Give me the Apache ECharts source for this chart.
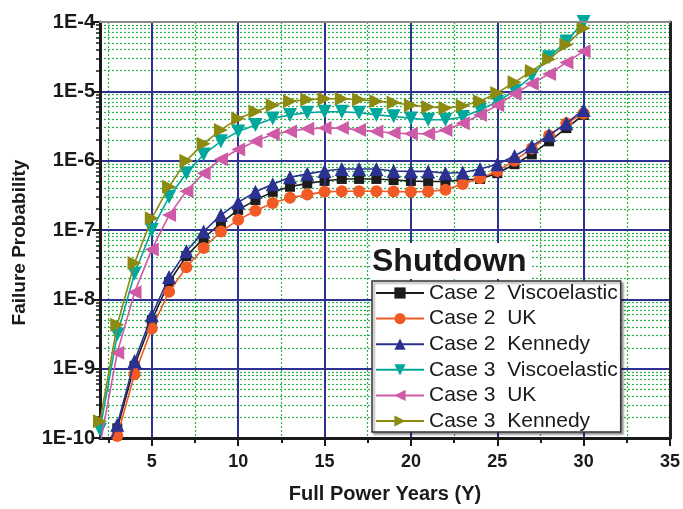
<!DOCTYPE html>
<html>
<head>
<meta charset="utf-8">
<script src="https://cdn.jsdelivr.net/npm/echarts@6/dist/echarts.min.js"></script>
<style>
html,body{margin:0;padding:0;background:#fff;}
#chart{width:683px;height:509px;}
</style>
</head>
<body>
<div id="chart"></div>
<script>
// ---- data ----
var years = [2,3,4,5,6,7,8,9,10,11,12,13,14,15,16,17,18,19,20,21,22,23,24,25,26,27,28,29,30];
var case2Visco = [6e-11,1.38e-10,1.1e-9,5.0e-9,1.78e-8,4.2e-8,7.6e-8,1.26e-7,1.95e-7,2.7e-7,3.55e-7,4.2e-7,4.7e-7,5.1e-7,5.45e-7,5.45e-7,5.45e-7,5.25e-7,5.1e-7,5.0e-7,5.0e-7,5.25e-7,5.45e-7,6.6e-7,8.9e-7,1.23e-6,1.9e-6,2.95e-6,4.57e-6];
var case2UK = [5e-11,1.07e-10,8.3e-10,3.8e-9,1.29e-8,2.9e-8,5.5e-8,9.5e-8,1.4e-7,1.9e-7,2.45e-7,2.92e-7,3.24e-7,3.55e-7,3.63e-7,3.63e-7,3.63e-7,3.6e-7,3.55e-7,3.6e-7,3.8e-7,4.6e-7,5.6e-7,7.1e-7,1.0e-6,1.5e-6,2.3e-6,3.47e-6,4.8e-6];
var case2Kennedy = [4e-11,1.55e-10,1.29e-9,5.9e-9,2.1e-8,4.95e-8,9.5e-8,1.64e-7,2.5e-7,3.55e-7,4.57e-7,5.75e-7,6.45e-7,7.1e-7,7.6e-7,7.6e-7,7.6e-7,7.1e-7,7.0e-7,7.0e-7,6.6e-7,6.75e-7,7.6e-7,8.9e-7,1.17e-6,1.62e-6,2.34e-6,3.47e-6,5.4e-6];
var case3Visco = [1.32e-10,3.1e-9,2.34e-8,1.0e-7,3.0e-7,6.6e-7,1.23e-6,1.9e-6,2.63e-6,3.27e-6,4.07e-6,4.57e-6,4.9e-6,5.07e-6,5.07e-6,4.9e-6,4.57e-6,4.36e-6,4.07e-6,3.9e-6,3.9e-6,4.27e-6,5.37e-6,7.1e-6,1.02e-5,1.66e-5,3.1e-5,5.25e-5,1.0e-4];
var case3UK = [8e-11,1.7e-9,1.26e-8,5.25e-8,1.64e-7,3.63e-7,6.6e-7,1.05e-6,1.45e-6,1.9e-6,2.4e-6,2.63e-6,2.88e-6,2.95e-6,2.95e-6,2.78e-6,2.63e-6,2.5e-6,2.45e-6,2.45e-6,2.78e-6,3.47e-6,4.57e-6,6.3e-6,9.2e-6,1.29e-5,1.78e-5,2.6e-5,3.8e-5];
var case3Kennedy = [1.74e-10,4.3e-9,3.35e-8,1.48e-7,4.2e-7,1.0e-6,1.76e-6,2.78e-6,4.07e-6,5.13e-6,6.3e-6,7.2e-6,7.6e-6,7.8e-6,7.8e-6,7.6e-6,7.2e-6,6.9e-6,6.3e-6,5.96e-6,5.75e-6,6.2e-6,7.2e-6,9.5e-6,1.35e-5,1.97e-5,2.9e-5,4.7e-5,8.1e-5];

var seriesNames = ['Case 2  Viscoelastic','Case 2  UK','Case 2  Kennedy','Case 3  Viscoelastic','Case 3  UK','Case 3  Kennedy'];
var xTickLabels = [5,10,15,20,25,30,35];
var xMinorTicks = [2.5,7.5,12.5,17.5,22.5,27.5,32.5];
var yTickLabels = ['1E-10','1E-9','1E-8','1E-7','1E-6','1E-5','1E-4'];
var yDecades = [-10,-9,-8,-7,-6,-5];
var yMinorMultipliers = [2,3,4,5,6,7,8,9];
var titleText = 'Shutdown';

// ---- build ----
function pairs(arr){ return years.map(function(x,i){ return [x, arr[i]]; }); }
var yMinorLogs = [];
yDecades.forEach(function(d){ yMinorMultipliers.forEach(function(m){ yMinorLogs.push(d + Math.log10(m)); }); });

var styles = [
  {color:'#1c1c1c', symbol:'rect', size:10, rot:0},
  {color:'#f15a24', symbol:'circle', size:12, rot:0},
  {color:'#2b3190', symbol:'triangle', size:14, rot:0},
  {color:'#00a79d', symbol:'triangle', size:14, rot:180},
  {color:'#cf5aa7', symbol:'triangle', size:14, rot:90},
  {color:'#8d8a12', symbol:'triangle', size:14, rot:-90}
];
var datasets = [case2Visco, case2UK, case2Kennedy, case3Visco, case3UK, case3Kennedy];

var series = datasets.map(function(d, i){
  var s = styles[i];
  return {
    name: seriesNames[i], type:'line', xAxisIndex:0, yAxisIndex:0,
    data: pairs(d), symbol: s.symbol, symbolSize: s.size, symbolRotate: s.rot,
    showAllSymbol: true, clip: true,
    lineStyle:{color:s.color, width:1.6},
    itemStyle:{color:s.color},
    z: 3 + i
  };
});

var black = '#1a1a1a';
var navy = '#2e3192';
var green = '#2db34a';
var FONT = 'Liberation Sans, Arial, sans-serif';

var chart = echarts.init(document.getElementById('chart'), null, {renderer:'canvas'});
chart.setOption({
  animation:false,
  backgroundColor:'#ffffff',
  title:{
    text:titleText, left:370, top:243,
    backgroundColor:'#ffffff', padding:[3,4,1,2],
    textStyle:{fontFamily:FONT, fontSize:32, fontWeight:'bold', color:'#1a1a1a', lineHeight:32}
  },
  legend:{
    data: seriesNames, orient:'vertical', left:372, top:281,
    backgroundColor:'#ffffff', borderColor:'#333', borderWidth:1.5,
    shadowColor:'rgba(0,0,0,0.35)', shadowOffsetX:2, shadowOffsetY:2, shadowBlur:2,
    padding:[1,3,0,3], itemWidth:48, itemHeight:14, itemGap:3.6,
    textStyle:{fontFamily:FONT, fontSize:21, color:'#1a1a1a', lineHeight:22},
    z: 20
  },
  grid:{left:100, right:11, top:22, bottom:64, containLabel:false},
  xAxis:[
    {
      type:'value', min:2, max:35, position:'bottom',
      name:'Full Power Years (Y)', nameLocation:'middle', nameGap:46,
      nameTextStyle:{fontFamily:FONT, fontSize:20, fontWeight:'bold', color:'#1a1a1a'},
      axisLine:{show:true, onZero:false, lineStyle:{color:black, width:3}},
      axisTick:{show:true, inside:false, length:8, lineStyle:{color:black, width:2}, customValues:xTickLabels},
      axisLabel:{show:true, margin:15, fontFamily:FONT, fontSize:18, fontWeight:'bold', color:'#1a1a1a', customValues:xTickLabels},
      splitLine:{show:true, lineStyle:{color:navy, width:2, type:'solid'}},
      z: 4
    },
    {
      type:'value', min:2, max:35, position:'bottom',
      axisLine:{show:false, onZero:false},
      axisTick:{show:true, inside:false, length:5, lineStyle:{color:black, width:2}, customValues:xMinorTicks},
      axisLabel:{show:false},
      splitLine:{show:true, lineStyle:{color:green, width:1.2, type:[2,2]}},
      z: 1
    },
    {
      type:'value', min:2, max:35, position:'top',
      axisLine:{show:true, onZero:false, lineStyle:{color:'#8a8a8a', width:2}},
      axisTick:{show:false}, axisLabel:{show:false}, splitLine:{show:false},
      z: 10
    }
  ],
  yAxis:[
    {
      type:'log', logBase:10, min:1e-10, max:1e-4, position:'left',
      name:'Failure Probability', nameLocation:'middle', nameGap:71, nameRotate:90,
      nameTextStyle:{fontFamily:FONT, fontSize:19, fontWeight:'bold', color:'#1a1a1a', padding:[0,25,0,0]},
      axisLine:{show:true, onZero:false, lineStyle:{color:black, width:3}},
      axisTick:{show:true, inside:false, length:8, lineStyle:{color:black, width:2}},
      axisLabel:{show:true, margin:5, fontFamily:FONT, fontSize:20, fontWeight:'bold', color:'#1a1a1a',
        formatter:function(v){ var e = Math.round(Math.log10(v)); return yTickLabels[e + 10] || ''; }},
      splitLine:{show:true, lineStyle:{color:navy, width:2, type:'solid'}},
      z: 4
    },
    {
      type:'value', min:-10, max:-4, position:'left',
      axisLine:{show:false, onZero:false},
      axisTick:{show:true, inside:false, length:4, lineStyle:{color:black, width:1.5}, customValues:yMinorLogs},
      axisLabel:{show:false},
      splitLine:{show:true, lineStyle:{color:green, width:1.2, type:[2,2]}},
      z: 1
    },
    {
      type:'value', min:-10, max:-4, position:'right',
      axisLine:{show:true, onZero:false, lineStyle:{color:'#222', width:3}},
      axisTick:{show:false}, axisLabel:{show:false}, splitLine:{show:false},
      z: 10
    }
  ],
  series: series
});
</script>
</body>
</html>
